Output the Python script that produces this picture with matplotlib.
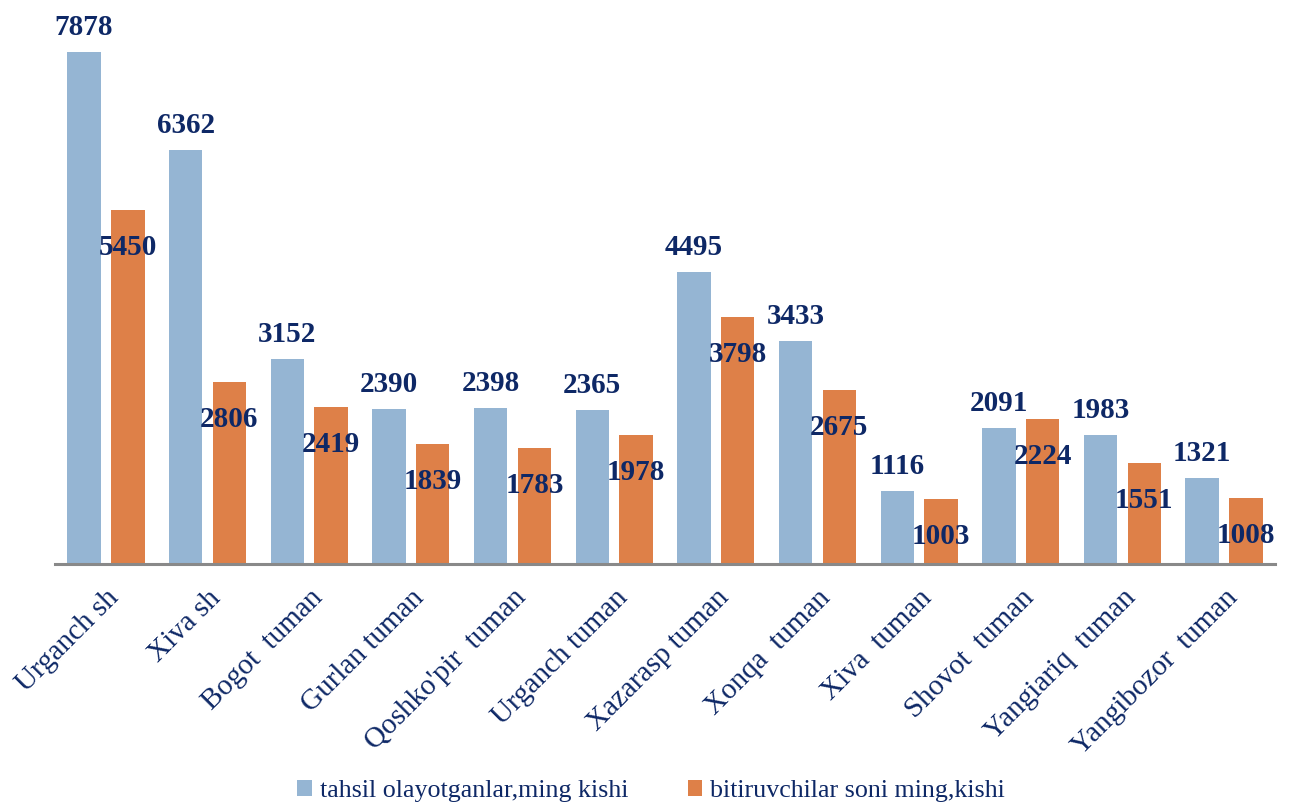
import numpy as np
import matplotlib
matplotlib.use("Agg")
import matplotlib.pyplot as plt

# data
districts = ["Urganch sh", "Xiva sh", "Bogot  tuman", "Gurlan tuman", "Qoshko'pir  tuman",
             "Urganch tuman", "Xazarasp tuman", "Xonqa  tuman", "Xiva  tuman",
             "Shovot  tuman", "Yangiariq  tuman", "Yangibozor  tuman"]
students = [7878, 6362, 3152, 2390, 2398, 2365, 4495, 3433, 1116, 2091, 1983, 1321]
graduates = [5450, 2806, 2419, 1839, 1783, 1978, 3798, 2675, 1003, 2224, 1551, 1008]
legend_labels = ["tahsil olayotganlar,ming kishi", "bitiruvchilar soni ming,kishi"]

blue = "#95B5D3"
orange = "#DE8048"
navy = "#0E2866"

plt.rcParams["font.family"] = ["Liberation Serif", "DejaVu Serif"]

fig = plt.figure(figsize=(12.89, 8.05), dpi=100)
ax = fig.add_axes([0.0427, 0.2994, 0.9464, 0.646])

x = np.arange(len(districts))
w = 0.33
off = 0.215
b1 = ax.bar(x - off, students, w, color=blue, label=legend_labels[0])
b2 = ax.bar(x + off, graduates, w, color=orange, label=legend_labels[1])

for xi, v in zip(x, students):
    ax.annotate(str(v), (xi - off, v), xytext=(0, 8), textcoords="offset points",
                ha="center", va="bottom", fontsize=21, fontweight="bold", color=navy)
for xi, v in zip(x, graduates):
    ax.annotate(str(v), (xi + off, v), xytext=(0, -27), textcoords="offset points",
                ha="center", va="center", fontsize=21, fontweight="bold", color=navy)

ax.set_xlim(-0.5, len(districts) - 0.5)
ax.set_ylim(0, 8000)
ax.set_yticks([])
for s in ["top", "right", "left"]:
    ax.spines[s].set_visible(False)
ax.spines["bottom"].set_color("#898989")
ax.spines["bottom"].set_linewidth(2.2)

ax.set_xticks(x)
ax.set_xticklabels(districts, rotation=45, ha="right", rotation_mode="anchor",
                   fontsize=21, color=navy)
ax.tick_params(axis="x", length=0, pad=15)

fig.legend(handles=[b1, b2], labels=legend_labels, loc="center",
           bbox_to_anchor=(0.505, 0.017), ncol=2, frameon=False, fontsize=18.7,
           handlelength=0.55, handleheight=0.55, handletextpad=0.3,
           columnspacing=2.3, labelcolor=navy)

fig.savefig("out.png", dpi=100)
